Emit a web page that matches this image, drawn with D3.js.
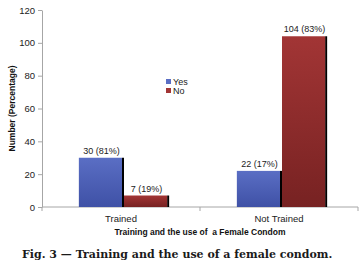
<!DOCTYPE html>
<html lang="en">
<head>
<meta charset="UTF-8">
<title>Training and the use of a female condom</title>
<script src="https://cdn.jsdelivr.net/npm/d3@7"></script>
<style>
    body { margin: 0; background: #fff; }
    svg { font-family: "Liberation Sans", Arial, sans-serif; }
    .axis path, .axis line { stroke: #a6a6a6; }
    .axis text { fill: #222; font-size: 9.5px; }
    .value { font-size: 9px; fill: #222; }
    .title { font-size: 8.5px; font-weight: bold; fill: #111; }
    .caption { font-family: "DejaVu Serif", serif; font-weight: bold; font-size: 11px; fill: #1a1a1a; }
</style>
</head>
<body>
<div id="chart"></div>
<script>
    // Data
    const categories = ["Trained", "Not Trained"];
    const seriesNames = ["Yes", "No"];
    const yesValues = [30, 22];
    const noValues = [7, 104];
    const yesLabels = ["30 (81%)", "22 (17%)"];
    const noLabels = ["7 (19%)", "104 (83%)"];
    const yTicks = [0, 20, 40, 60, 80, 100, 120];

    const width = 364, height = 266;
    const margin = {top: 10, right: 6, bottom: 59, left: 42};

    const data = categories.map((c, i) => ({
        category: c,
        values: [
            {key: "Yes", value: yesValues[i], label: yesLabels[i]},
            {key: "No", value: noValues[i], label: noLabels[i]}
        ]
    }));

    const svg = d3.select("#chart").append("svg")
        .attr("width", width)
        .attr("height", height);

    const defs = svg.append("defs");
    const grads = {Yes: ["#5a6ec4", "#3f51a6"], No: ["#a23535", "#772222"]};
    seriesNames.forEach(k => {
        const g = defs.append("linearGradient")
            .attr("id", "grad-" + k)
            .attr("x1", 0).attr("y1", 0).attr("x2", 0).attr("y2", 1);
        g.append("stop").attr("offset", "0%").attr("stop-color", grads[k][0]);
        g.append("stop").attr("offset", "100%").attr("stop-color", grads[k][1]);
    });

    const x0 = d3.scaleBand()
        .domain(categories)
        .range([margin.left, width - margin.right])
        .paddingInner(0).paddingOuter(0);

    // bars sit slightly right of the category centre
    const x1 = d3.scaleBand()
        .domain(seriesNames)
        .range([3, x0.bandwidth() + 3])
        .paddingInner(0).paddingOuter(0.75);

    const y = d3.scaleLinear()
        .domain([0, 120])
        .range([height - margin.bottom, margin.top]);

    // Y axis
    svg.append("g")
        .attr("class", "axis")
        .attr("transform", `translate(${margin.left},0)`)
        .call(d3.axisLeft(y).tickValues(yTicks).tickSize(4).tickSizeOuter(0).tickPadding(3));

    // X axis with ticks at category boundaries
    const xAxis = svg.append("g")
        .attr("class", "axis")
        .attr("transform", `translate(0,${y(0)})`);
    xAxis.append("line")
        .attr("x1", margin.left).attr("x2", width - margin.right)
        .attr("y1", 0).attr("y2", 0);
    const bounds = categories.map(c => x0(c)).concat([x0(categories[categories.length - 1]) + x0.bandwidth()]);
    xAxis.selectAll(".btick").data(bounds).join("line")
        .attr("x1", d => d).attr("x2", d => d)
        .attr("y1", 0).attr("y2", 4);
    xAxis.selectAll(".clabel").data(categories).join("text")
        .attr("x", d => x0(d) + x0.bandwidth() / 2)
        .attr("y", 15)
        .attr("text-anchor", "middle")
        .text(d => d);

    // Bars
    const groups = svg.append("g").selectAll("g")
        .data(data).join("g")
        .attr("transform", d => `translate(${x0(d.category)},0)`);

    groups.selectAll(".shadow").data(d => d.values).join("rect")
        .attr("x", d => x1(d.key) + x1.bandwidth() - 2)
        .attr("y", d => y(d.value))
        .attr("width", 2)
        .attr("height", d => y(0) - y(d.value))
        .attr("fill", "#000");

    groups.selectAll(".bar").data(d => d.values).join("rect")
        .attr("x", d => x1(d.key))
        .attr("y", d => y(d.value))
        .attr("width", x1.bandwidth() - 2)
        .attr("height", d => y(0) - y(d.value))
        .attr("fill", d => `url(#grad-${d.key})`);

    groups.selectAll(".value").data(d => d.values).join("text")
        .attr("class", "value")
        .attr("x", d => x1(d.key) + x1.bandwidth() / 2)
        .attr("y", d => y(d.value) - 4)
        .attr("text-anchor", "middle")
        .text(d => d.label);

    // Legend
    const legend = svg.append("g").attr("transform", "translate(166,79)");
    seriesNames.forEach((k, i) => {
        const row = legend.append("g").attr("transform", `translate(0,${i * 9})`);
        row.append("rect").attr("width", 5).attr("height", 5).attr("fill", grads[k][0]);
        row.append("text").attr("x", 7).attr("y", 5.5).attr("font-size", "9px").attr("fill", "#222").text(k);
    });

    // Axis titles
    svg.append("text")
        .attr("class", "title")
        .attr("x", 200)
        .attr("y", 235)
        .attr("text-anchor", "middle")
        .attr("xml:space", "preserve")
        .text("Training and the use of  a Female Condom");

    svg.append("text")
        .attr("class", "title")
        .attr("text-anchor", "middle")
        .attr("transform", `translate(15,${(y(0) + y(120)) / 2})rotate(-90)`)
        .text("Number (Percentage)");

    // Caption
    svg.append("text")
        .attr("class", "caption")
        .attr("x", 22)
        .attr("y", 258)
        .text("Fig. 3 \u2014 Training and the use of a female condom.");
</script>
</body>
</html>
